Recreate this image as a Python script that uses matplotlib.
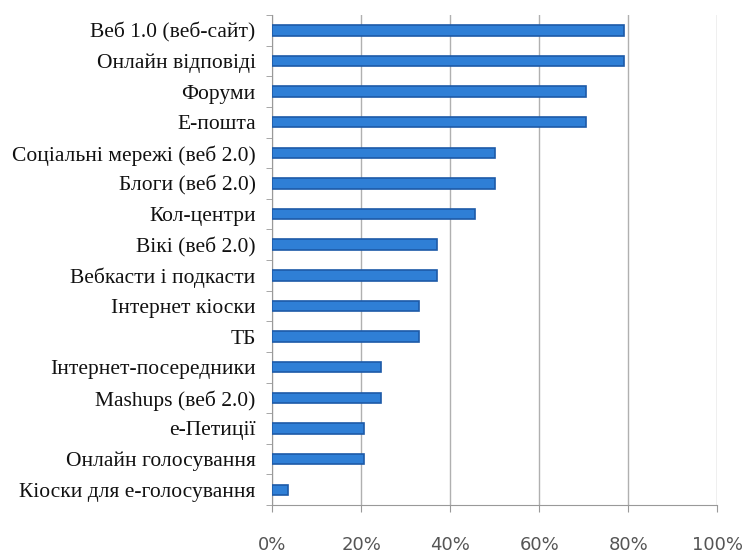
import numpy as np
import matplotlib
matplotlib.use("Agg")
import matplotlib.pyplot as plt

categories = [
    "Веб 1.0 (веб-сайт)",
    "Онлайн відповіді",
    "Форуми",
    "Е-пошта",
    "Соціальні мережі (веб 2.0)",
    "Блоги (веб 2.0)",
    "Кол-центри",
    "Вікі (веб 2.0)",
    "Вебкасти і подкасти",
    "Інтернет кіоски",
    "ТБ",
    "Інтернет-посередники",
    "Mashups (веб 2.0)",
    "е-Петиції",
    "Онлайн голосування",
    "Кіоски для е-голосування",
]
values = [79, 79, 70.5, 70.5, 50, 50, 45.5, 37, 37, 33, 33, 24.5, 24.5, 20.5, 20.5, 3.5]
xticks = [0, 20, 40, 60, 80, 100]
xtick_labels = ["0%", "20%", "40%", "60%", "80%", "100%"]

fig = plt.figure(figsize=(7.48, 5.55), dpi=100)
ax = fig.add_axes([0.364, 0.09, 0.595, 0.883])

y = np.arange(len(categories))
ax.barh(y, values, height=0.34, color="#2f7fd6", edgecolor="#1d5aa8", linewidth=1.2, zorder=3)

ax.set_xlim(0, 100)
ax.set_ylim(len(categories) - 0.5, -0.5)

ax.set_xticks(xticks)
ax.set_xticklabels(xtick_labels, fontsize=13, color="#555555", family="DejaVu Sans")
ax.tick_params(axis="x", length=5, color="#999999", pad=17)

ax.set_yticks(y)
ax.set_yticklabels(categories, fontsize=15.5, family="Liberation Serif", color="#111111")
ax.tick_params(axis="y", which="major", length=0, pad=12)
ax.set_yticks(np.arange(len(categories) + 1) - 0.5, minor=True)
ax.tick_params(axis="y", which="minor", length=4, color="#999999")

ax.grid(axis="x", color="#b0b0b0", linewidth=1.0, zorder=0)
for s in ["top", "right"]:
    ax.spines[s].set_visible(False)
for s in ["left", "bottom"]:
    ax.spines[s].set_color("#999999")

fig.savefig("out.png", dpi=100)
